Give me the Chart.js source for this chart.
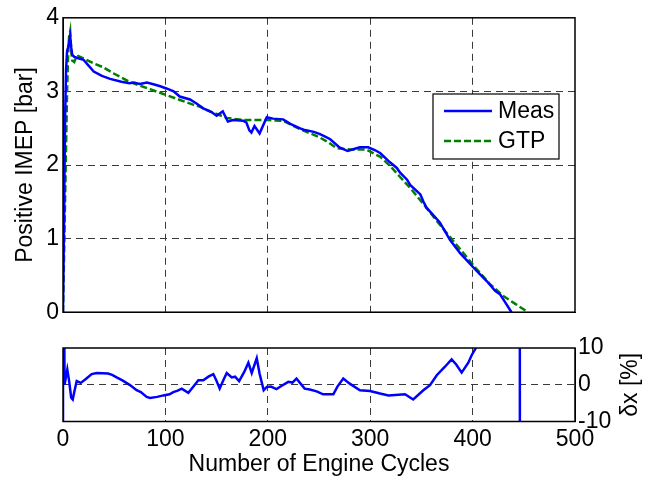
<!DOCTYPE html>
<html>
<head>
<meta charset="utf-8">
<script src="https://cdn.jsdelivr.net/npm/chart.js@4/dist/chart.umd.min.js"></script>
<style>
  html, body { margin: 0; padding: 0; background: #fff; }
  #wrap { position: relative; width: 652px; height: 478px; }
  .box { position: absolute; left: 0; width: 652px; }
</style>
</head>
<body>
<div id="wrap">
  <div class="box" style="top:0;height:330px"><canvas id="imepChart"></canvas></div>
  <div class="box" style="top:330px;height:148px"><canvas id="errChart"></canvas></div>
</div>
<script>
// engine cycle data
const measCycles = [0, 1, 2, 3, 4, 5, 6, 7, 8, 9, 11, 15, 20, 25, 30, 38, 46, 57, 65, 69, 75, 82, 90, 95, 101, 108, 114, 124, 130, 137, 145, 150, 156, 161, 166, 176, 179, 182, 184, 187, 192, 199, 205, 215, 222, 231, 235, 245, 251, 257, 261, 270, 278, 285, 290, 298, 305, 310, 319, 326, 329, 336, 339, 349, 352, 355, 368, 378, 388, 396, 404, 414, 422, 427, 432, 438];
const measImep = [0, 1.2, 2.6, 3.3, 3.55, 3.6, 3.68, 3.75, 3.6, 3.5, 3.47, 3.45, 3.43, 3.35, 3.27, 3.21, 3.17, 3.13, 3.11, 3.12, 3.1, 3.12, 3.09, 3.07, 3.04, 3.0, 2.93, 2.89, 2.84, 2.77, 2.72, 2.67, 2.73, 2.59, 2.61, 2.6, 2.58, 2.47, 2.44, 2.53, 2.43, 2.65, 2.63, 2.62, 2.56, 2.5, 2.48, 2.45, 2.42, 2.38, 2.35, 2.24, 2.19, 2.22, 2.24, 2.24, 2.2, 2.16, 2.04, 1.96, 1.9, 1.8, 1.73, 1.6, 1.5, 1.42, 1.22, 0.98, 0.8, 0.68, 0.56, 0.42, 0.29, 0.24, 0.13, 0];

const gtpCycles = [0, 2, 4, 5, 6, 7, 8, 9, 11, 13, 15, 20, 30, 39, 50, 65, 75, 85, 101, 115, 127, 134, 145, 160, 176, 199, 215, 231, 250, 260, 267, 280, 296, 310, 320, 329, 339, 352, 365, 378, 390, 403, 417, 430, 442, 454];
const gtpImep = [0, 1.5, 3.0, 3.5, 3.75, 3.82, 3.55, 3.42, 3.4, 3.47, 3.48, 3.45, 3.38, 3.33, 3.24, 3.13, 3.08, 3.03, 2.95, 2.88, 2.82, 2.79, 2.72, 2.64, 2.61, 2.61, 2.6, 2.49, 2.38, 2.3, 2.23, 2.21, 2.21, 2.11, 1.98, 1.84, 1.69, 1.47, 1.24, 1.02, 0.82, 0.6, 0.38, 0.22, 0.11, 0];

const errCycles = [0, 0.01, 1.5, 4.2, 6, 8, 9.5, 11, 13.4, 17.3, 22, 28, 33, 44, 48, 52.4, 58, 65.4, 71.9, 76, 81.7, 85, 92, 98, 104, 107.7, 112, 115.9, 122.4, 127, 132.2, 137, 142, 146.8, 150, 153, 157, 159.9, 164.8, 168, 172, 177, 181, 184.3, 189.2, 192, 196, 199, 203, 208.5, 214, 220, 224, 228, 232, 236, 241, 247.7, 254, 264, 268, 273.7, 280, 290, 299.8, 309.6, 317.8, 334, 342, 351.9, 358.4, 365, 373, 379.5, 384, 389.3, 395.8, 399.2, 403, 406, 420, 446, 446.3];
const errPct = [-100, 100, 0, 4.15, 1, -3.5, -4, -2, 1, 0.5, 1.5, 2.9, 3.2, 3.05, 2.7, 2.0, 1.2, -0.1, -1.5, -2, -3.3, -3.6, -3.3, -2.9, -2.6, -2.0, -1.6, -1.05, -2.2, -0.6, 1.2, 1.2, 2.2, 2.9, 1, -1.05, 1.5, 3.2, 2.0, 2.2, 1.0, 3.5, 6.0, 3.2, 7.2, 3, -1.5, -0.6, -0.5, -1.2, -0.2, 0.8, 0.6, 1.7, 0.3, -1.05, -1.3, -1.8, -2.6, -2.6, -0.5, 1.7, 0.3, -1.5, -1.7, -2.4, -2.9, -2.6, -4.0, -1.5, -0.1, 2.6, 4.9, 6.9, 5.5, 3.3, 6.0, 8.1, 9.9, 13, 30, 100, -100];

const seriesNames = ['Meas', 'GTP'];
const xTitle = 'Number of Engine Cycles';
const yTitle = 'Positive IMEP [bar]';
const errTitle = 'δx [%]';

const FONT = 'Liberation Sans, Arial, sans-serif';
const FSIZE = 23;
const GRID = '#3a3a3a';

function toPoints(xs, ys) {
    return xs.map((x, i) => ({ x: x, y: ys[i] }));
}

// hide grid lines that sit on the box edges
function innerGrid(lo, hi) {
    return ctx => (ctx.tick && (ctx.tick.value === lo || ctx.tick.value === hi)) ? 'rgba(0,0,0,0)' : GRID;
}

// matlab style closed box around the plot
const boxPlugin = {
    id: 'box',
    afterDatasetsDraw(chart) {
        const a = chart.chartArea, c = chart.ctx;
        c.save();
        c.strokeStyle = '#000';
        c.lineWidth = 1.5;
        c.strokeRect(a.left, a.top, a.right - a.left, a.bottom - a.top);
        c.restore();
    }
};

const legendPlugin = {
    id: 'boxLegend',
    afterDatasetsDraw(chart) {
        const c = chart.ctx;
        const x0 = 433, y0 = 94, w = 126, h = 65;
        c.save();
        c.fillStyle = '#fff';
        c.fillRect(x0, y0, w, h);
        c.strokeStyle = '#000';
        c.lineWidth = 1.2;
        c.strokeRect(x0, y0, w, h);
        c.font = FSIZE + 'px ' + FONT;
        c.textBaseline = 'middle';
        chart.data.datasets.forEach((ds, i) => {
            const y = y0 + 17 + i * 30;
            c.strokeStyle = ds.borderColor;
            c.lineWidth = ds.borderWidth;
            c.setLineDash(ds.borderDash || []);
            c.beginPath();
            c.moveTo(x0 + 11, y);
            c.lineTo(x0 + 59, y);
            c.stroke();
            c.setLineDash([]);
            c.fillStyle = '#000';
            c.fillText(ds.label, x0 + 65, y + 1);
        });
        c.restore();
    }
};

const rightTitlePlugin = {
    id: 'rightTitle',
    afterDraw(chart) {
        const a = chart.chartArea, c = chart.ctx;
        c.save();
        c.translate(631, (a.top + a.bottom) / 2);
        c.rotate(-Math.PI / 2);
        c.font = FSIZE + 'px ' + FONT;
        c.fillStyle = '#000';
        c.textAlign = 'center';
        c.textBaseline = 'middle';
        c.fillText(errTitle, 0, 0);
        c.restore();
    }
};

Chart.defaults.font.family = FONT;
Chart.defaults.font.size = FSIZE;
Chart.defaults.color = '#000';

new Chart(document.getElementById('imepChart').getContext('2d'), {
    type: 'line',
    data: {
        datasets: [{
            label: seriesNames[0],
            data: toPoints(measCycles, measImep),
            borderColor: '#0000ff',
            borderWidth: 2.5,
            pointRadius: 0,
            tension: 0,
            fill: false
        }, {
            label: seriesNames[1],
            data: toPoints(gtpCycles, gtpImep),
            borderColor: '#008000',
            borderWidth: 2.5,
            borderDash: [7, 3],
            pointRadius: 0,
            tension: 0,
            fill: false
        }]
    },
    options: {
        responsive: true,
        maintainAspectRatio: false,
        animation: false,
        layout: { padding: { left: 0, right: 77, top: 15, bottom: 15 } },
        plugins: { legend: { display: false }, tooltip: { enabled: false } },
        scales: {
            x: {
                type: 'linear',
                min: 0, max: 500,
                ticks: { display: false, stepSize: 100 },
                grid: { color: innerGrid(0, 500), lineWidth: 1, drawTicks: false },
                border: { display: true, color: '#000', dash: [7, 5] },
                afterFit: s => { s.height = 0; }
            },
            y: {
                min: 0, max: 4,
                ticks: { stepSize: 1, padding: 4 },
                grid: { color: innerGrid(0, 4), lineWidth: 1, drawTicks: false },
                border: { display: true, color: '#000', dash: [7, 5] },
                title: { display: true, text: yTitle, padding: { top: 12, bottom: 4 } },
                afterFit: s => { s.width = 63; }
            }
        }
    },
    plugins: [boxPlugin, legendPlugin]
});

new Chart(document.getElementById('errChart').getContext('2d'), {
    type: 'line',
    data: {
        datasets: [{
            label: 'δx',
            data: toPoints(errCycles, errPct),
            borderColor: '#0000ff',
            borderWidth: 2.5,
            pointRadius: 0,
            tension: 0,
            fill: false
        }]
    },
    options: {
        responsive: true,
        maintainAspectRatio: false,
        animation: false,
        layout: { padding: { left: 63, right: 0, top: 18, bottom: 0 } },
        plugins: { legend: { display: false }, tooltip: { enabled: false } },
        scales: {
            x: {
                type: 'linear',
                min: 0, max: 500,
                ticks: { stepSize: 100, padding: 4, maxRotation: 0 },
                grid: { color: innerGrid(0, 500), lineWidth: 1, drawTicks: false },
                border: { display: true, color: '#000', dash: [7, 5] },
                title: { display: true, text: xTitle, padding: { top: 0, bottom: 0 } },
                afterFit: s => { s.height = 56.5; }
            },
            y: {
                position: 'right',
                min: -10, max: 10,
                ticks: { stepSize: 10, padding: 3 },
                grid: { color: innerGrid(-10, 10), lineWidth: 1, drawTicks: false },
                border: { display: true, color: '#000', dash: [7, 5] },
                afterFit: s => { s.width = 77; }
            }
        }
    },
    plugins: [boxPlugin, rightTitlePlugin]
});
</script>
</body>
</html>
